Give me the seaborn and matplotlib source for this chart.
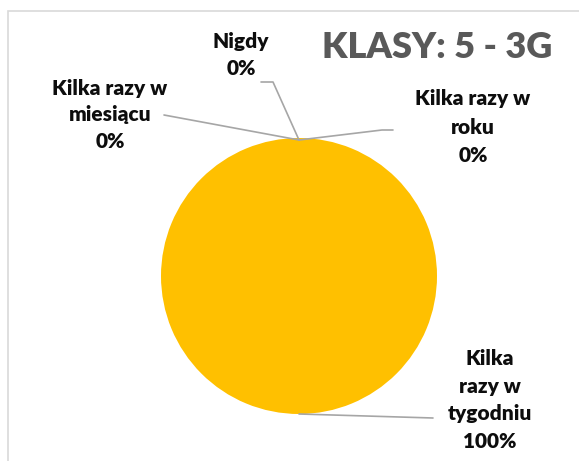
import matplotlib
matplotlib.use("Agg")
import matplotlib.pyplot as plt
import seaborn as sns
from matplotlib.patches import Rectangle

# dane z wykresu
categories = ["Nigdy", "Kilka razy w roku", "Kilka razy w tygodniu", "Kilka razy w miesiącu"]
values = [0, 0, 100, 0]
label_texts = ["Nigdy\n0%", "Kilka razy w\nroku\n0%", "Kilka\nrazy w\ntygodniu\n100%", "Kilka razy w\nmiesiącu\n0%"]
colors = ["#5B9BD5", "#ED7D31", "#FFC000", "#A5A5A5"]
title = "KLASY: 5 - 3G"

sns.set_style("white")
plt.rcParams['font.family'] = ['Lato', 'DejaVu Sans']

W, H = 579, 461
fig = plt.figure(figsize=(W / 100, H / 100), dpi=100)
ax = fig.add_axes([0, 0, 1, 1])

# srodek kola w pikselach (299, 276), promien 138
cx, cy, r = 299, 276, 138
def px(x, y):
    return ((x - cx) / r, (cy - y) / r)

ax.pie(values, colors=colors, startangle=90, counterclock=False,
       radius=1, center=(0, 0), wedgeprops=dict(linewidth=0))
ax.set_xlim(-cx / r, (W - cx) / r)
ax.set_ylim(-(H - cy) / r, cy / r)
ax.set_aspect("equal")
ax.axis("off")

# ramka wykresu
fig.patches.append(Rectangle((8 / W, -0.1), 1.2, 1 - 11 / H + 0.1, transform=fig.transFigure,
                             fill=False, edgecolor="#D9D9D9", linewidth=1.2))

line_kw = dict(color="#A6A6A6", linewidth=1.2)
txt_kw = dict(fontsize=15, fontweight="heavy", color="#0D0D0D", ha="center", va="center")

# Nigdy
p = [px(299, 140), px(273, 82), px(261, 82)]
ax.plot([q[0] for q in p], [q[1] for q in p], **line_kw)
ax.text(*px(241, 55), label_texts[0], linespacing=1.5, **txt_kw)

# Kilka razy w roku
p = [px(299, 140), px(382, 130), px(393, 130)]
ax.plot([q[0] for q in p], [q[1] for q in p], **line_kw)
ax.text(*px(473, 127), label_texts[1], linespacing=1.6, **txt_kw)

# Kilka razy w miesiacu
p = [px(299, 140), px(164, 115)]
ax.plot([q[0] for q in p], [q[1] for q in p], **line_kw)
ax.text(*px(110, 115), label_texts[3], linespacing=1.5, **txt_kw)

# Kilka razy w tygodniu
p = [px(299, 414), px(433, 418)]
ax.plot([q[0] for q in p], [q[1] for q in p], **line_kw)
ax.text(*px(490, 400), label_texts[2], linespacing=1.55, **txt_kw)

ax.text(*px(437, 48), title, fontsize=26, fontweight="heavy", color="#595959",
        ha="center", va="center")

fig.savefig("out.png", dpi=100)
